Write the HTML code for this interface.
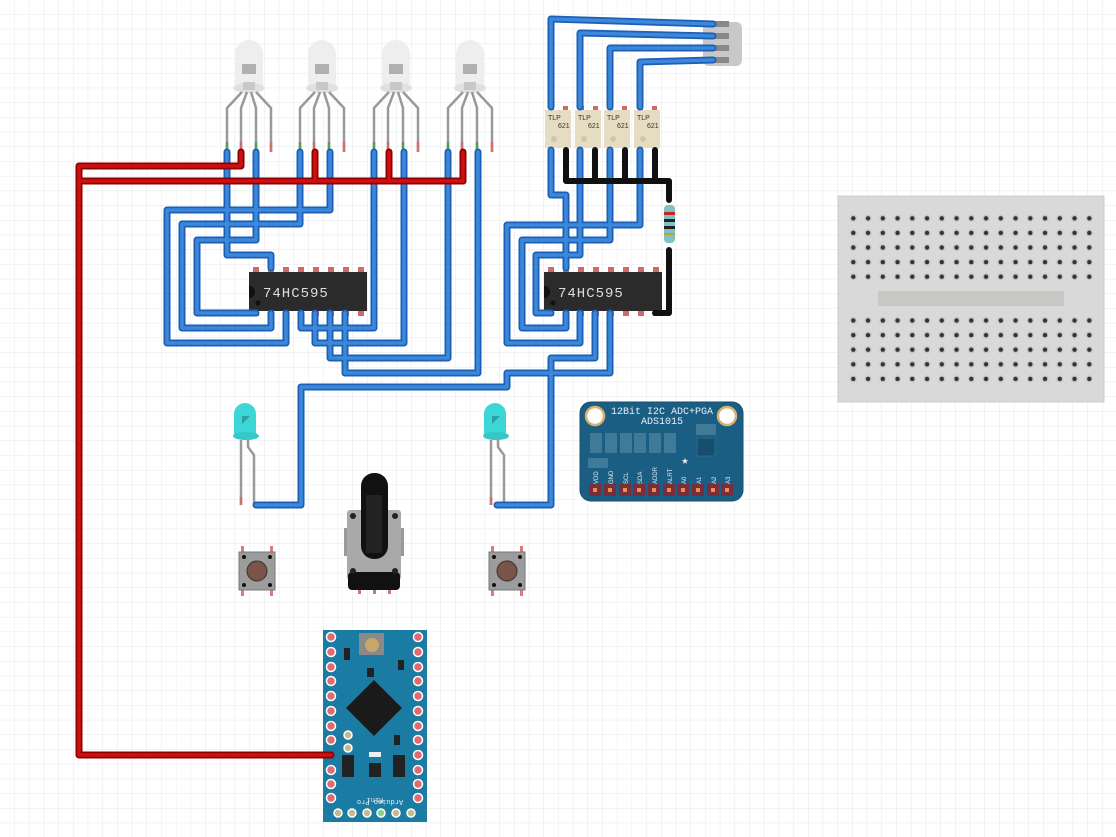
<!DOCTYPE html>
<html><head><meta charset="utf-8"><style>
html,body{margin:0;padding:0;background:#fff;}
svg{display:block;font-family:"Liberation Mono",monospace;}
</style></head><body>
<svg width="1116" height="837" viewBox="0 0 1116 837" xmlns="http://www.w3.org/2000/svg">
<defs>
<pattern id="grid" width="14.7" height="14.7" patternUnits="userSpaceOnUse">
<path d="M14.7 0V14.7H0" fill="none" stroke="#e3e8ef" stroke-width="1"/>
</pattern>
<pattern id="holes" x="846" y="211" width="14.75" height="14.6" patternUnits="userSpaceOnUse">
<circle cx="7.3" cy="7.3" r="3.6" fill="#c8c8c8"/><circle cx="7.3" cy="7.3" r="2.2" fill="#333"/>
</pattern>
<g id="rgbled">
<path d="M-14 46 V12 a14 14 0 0 1 28 0 V46Z" fill="#ececec" opacity="0.9"/>
<ellipse cx="0" cy="46" rx="16" ry="5" fill="#e0e0e0"/>
<rect x="-7" y="22" width="14" height="10" fill="#b0b0b0"/>
<rect x="-6" y="40" width="12" height="8" fill="#c8c8c8"/>
<g fill="none" stroke="#999" stroke-width="2.5">
<path d="M-7 50 L-22 66 V110"/><path d="M-2 50 L-8 66 V110"/><path d="M2 50 L7 66 V110"/><path d="M7 50 L22 66 V110"/>
</g>
<g stroke-width="2.5"><path d="M-22 100V110" stroke="#5a9a5a"/><path d="M-8 100V110" stroke="#c57070"/><path d="M7 100V110" stroke="#5a9a5a"/><path d="M22 100V110" stroke="#d07070"/></g>
</g>
<g id="chip">
<rect x="0" y="0" width="118" height="39" fill="#2b2b2b"/>
<g fill="#d06a6a"><rect x="4" y="-5" width="6" height="5"/><rect x="19" y="-5" width="6" height="5"/><rect x="34" y="-5" width="6" height="5"/><rect x="49" y="-5" width="6" height="5"/><rect x="64" y="-5" width="6" height="5"/><rect x="79" y="-5" width="6" height="5"/><rect x="94" y="-5" width="6" height="5"/><rect x="109" y="-5" width="6" height="5"/>
<rect x="4" y="39" width="6" height="5"/><rect x="19" y="39" width="6" height="5"/><rect x="34" y="39" width="6" height="5"/><rect x="49" y="39" width="6" height="5"/><rect x="64" y="39" width="6" height="5"/><rect x="79" y="39" width="6" height="5"/><rect x="94" y="39" width="6" height="5"/><rect x="109" y="39" width="6" height="5"/></g>
<path d="M0 14 a6 6 0 0 1 0 12Z" fill="#111"/><circle cx="9" cy="31" r="2.5" fill="#111"/>
<text x="14" y="25" fill="#ddd" font-size="14" letter-spacing="1">74HC595</text>
</g>
<g id="tlp">
<rect x="0" y="0" width="26" height="38" fill="#e6dcc2"/>
<rect x="4" y="-4" width="5" height="4" fill="#5a9a5a"/><rect x="18" y="-4" width="5" height="4" fill="#d06a6a"/>
<circle cx="9" cy="29" r="3" fill="#cfc6ae"/>
<text x="3" y="10" font-size="7" font-family="Liberation Sans" fill="#333">TLP</text>
<text x="13" y="18" font-size="7" font-family="Liberation Sans" fill="#333">621</text>
</g>
<g id="btn">
<rect x="2" y="-6" width="3" height="6" fill="#e07a7a"/><rect x="31" y="-6" width="3" height="6" fill="#e07a7a"/>
<rect x="2" y="38" width="3" height="6" fill="#e07a7a"/><rect x="31" y="38" width="3" height="6" fill="#e07a7a"/>
<rect x="0" y="0" width="36" height="38" fill="#9c9c9c" stroke="#777"/>
<circle cx="5" cy="5" r="2" fill="#111"/><circle cx="31" cy="5" r="2" fill="#111"/><circle cx="5" cy="33" r="2" fill="#111"/><circle cx="31" cy="33" r="2" fill="#111"/>
<circle cx="18" cy="19" r="10" fill="#7a5448" stroke="#333"/>
</g>
<g id="cled">
<path d="M-12 32 V9 a11 11 0 0 1 22 0 V32Z" fill="#3dd6d6"/>
<ellipse cx="0" cy="31" rx="13" ry="4" fill="#36c8c8"/>
<path d="M-4 11 h8 l-8 8z" fill="#2aa0a0"/>
<path d="M-5 35 V100" stroke="#999" stroke-width="2.5" fill="none"/>
<path d="M2 35 V42 L8 50 V100" stroke="#999" stroke-width="2.5" fill="none"/>
<path d="M-5 92 V100" stroke="#c97070" stroke-width="2.5"/>
</g>
</defs>
<rect width="1116" height="837" fill="#fff"/>
<rect width="1116" height="837" fill="url(#grid)"/>

<!-- breadboard -->
<rect x="838" y="196" width="266" height="206" fill="#d9d9d9" stroke="#ccc"/>
<rect x="846" y="211" width="251" height="73" fill="url(#holes)"/>
<rect x="846" y="313" width="251" height="73" fill="url(#holes)"/>
<rect x="878" y="291" width="186" height="15" fill="#c9c7c4"/>

<!-- RGB LEDs -->
<use href="#rgbled" x="249" y="42"/>
<use href="#rgbled" x="322" y="42"/>
<use href="#rgbled" x="396" y="42"/>
<use href="#rgbled" x="470" y="42"/>

<!-- chips -->
<use href="#chip" x="249" y="272"/>
<use href="#chip" x="544" y="272"/>

<!-- TLPs -->
<use href="#tlp" x="545" y="110"/>
<use href="#tlp" x="575" y="110"/>
<use href="#tlp" x="604" y="110"/>
<use href="#tlp" x="634" y="110"/>

<!-- connector -->
<rect x="703" y="22" width="39" height="44" rx="6" fill="#c8c8c8"/>
<g fill="#888"><rect x="713" y="21" width="16" height="6"/><rect x="713" y="33" width="16" height="6"/><rect x="713" y="45" width="16" height="6"/><rect x="713" y="57" width="16" height="6"/></g>

<!-- resistor -->
<rect x="664" y="205" width="11" height="38" rx="4" fill="#7fc2c2"/>
<g fill="#222"><rect x="664" y="212" width="11" height="3" fill="#c22"/><rect x="664" y="219" width="11" height="3"/><rect x="664" y="226" width="11" height="3"/><rect x="664" y="233" width="11" height="2" fill="#bca030"/></g>

<!-- cyan LEDs -->
<use href="#cled" x="246" y="405"/>
<use href="#cled" x="496" y="405"/>

<!-- buttons -->
<use href="#btn" x="239" y="552"/>
<use href="#btn" x="489" y="552"/>

<!-- pot -->
<g>
<rect x="344" y="528" width="6" height="28" fill="#999"/><rect x="398" y="528" width="6" height="28" fill="#999"/>
<rect x="347" y="510" width="54" height="70" rx="3" fill="#a9a9a9"/>
<rect x="348" y="572" width="52" height="18" rx="4" fill="#111"/>
<g fill="#c77"><rect x="358" y="590" width="3" height="4"/><rect x="373" y="590" width="3" height="4"/><rect x="388" y="590" width="3" height="4"/></g>
<g fill="#222"><circle cx="353" cy="516" r="3"/><circle cx="395" cy="516" r="3"/><circle cx="353" cy="571" r="3"/><circle cx="395" cy="571" r="3"/></g>
<rect x="361" y="473" width="27" height="86" rx="13" fill="#111"/>
<rect x="366" y="495" width="16" height="58" fill="#222"/>
</g>

<!-- ADC -->
<g>
<rect x="580" y="402" width="163" height="99" rx="11" fill="#1b5e84" stroke="#174e6e"/>
<circle cx="595" cy="416" r="9" fill="#fff" stroke="#d8b070" stroke-width="2.5"/>
<circle cx="727" cy="416" r="9" fill="#fff" stroke="#d8b070" stroke-width="2.5"/>
<text x="662" y="414" font-size="10" fill="#e8eef4" text-anchor="middle">12Bit I2C ADC+PGA</text>
<text x="662" y="424" font-size="10" fill="#e8eef4" text-anchor="middle">ADS1015</text>
<g fill="#3f7a98"><rect x="590" y="433" width="12" height="20"/><rect x="605" y="433" width="12" height="20"/><rect x="620" y="433" width="12" height="20"/><rect x="634" y="433" width="12" height="20"/><rect x="649" y="433" width="12" height="20"/><rect x="664" y="433" width="12" height="20"/><rect x="696" y="424" width="20" height="11"/><rect x="588" y="458" width="20" height="10"/></g>
<rect x="697" y="438" width="18" height="18" fill="#174e6e" stroke="#2a6a8a"/>
<text x="685" y="464" font-size="12" fill="#e8eef4" text-anchor="middle">★</text>
<g font-size="6" fill="#e8eef4" font-family="Liberation Sans">
<text transform="translate(598,484) rotate(-90)">VDD</text><text transform="translate(613,484) rotate(-90)">GND</text><text transform="translate(628,484) rotate(-90)">SCL</text><text transform="translate(642,484) rotate(-90)">SDA</text><text transform="translate(657,484) rotate(-90)">ADDR</text><text transform="translate(672,484) rotate(-90)">ALRT</text><text transform="translate(686,484) rotate(-90)">A0</text><text transform="translate(701,484) rotate(-90)">A1</text><text transform="translate(716,484) rotate(-90)">A2</text><text transform="translate(730,484) rotate(-90)">A3</text>
</g>
<g fill="#7a2d3a"><rect x="589" y="484" width="12" height="12"/><rect x="604" y="484" width="12" height="12"/><rect x="619" y="484" width="12" height="12"/><rect x="633" y="484" width="12" height="12"/><rect x="648" y="484" width="12" height="12"/><rect x="663" y="484" width="12" height="12"/><rect x="677" y="484" width="12" height="12"/><rect x="692" y="484" width="12" height="12"/><rect x="707" y="484" width="12" height="12"/><rect x="721" y="484" width="12" height="12"/></g>
<g fill="#e8904a"><rect x="593" y="488" width="4" height="4"/><rect x="608" y="488" width="4" height="4"/><rect x="623" y="488" width="4" height="4"/><rect x="637" y="488" width="4" height="4"/><rect x="652" y="488" width="4" height="4"/><rect x="667" y="488" width="4" height="4"/><rect x="681" y="488" width="4" height="4"/><rect x="696" y="488" width="4" height="4"/><rect x="711" y="488" width="4" height="4"/><rect x="725" y="488" width="4" height="4"/></g>
</g>

<!-- Arduino Pro Mini -->
<g>
<rect x="323" y="630" width="104" height="192" fill="#1a7ca3"/>
<rect x="359" y="633" width="25" height="22" fill="#8a8a8a"/><circle cx="372" cy="645" r="7" fill="#c8a86a"/>
<path d="M374 680 L402 708 L374 736 L346 708Z" fill="#1a1a1a"/>
<g fill="#e06a72" stroke="#fff" stroke-width="1.5">
<circle cx="331" cy="637" r="4.5"/><circle cx="331" cy="652" r="4.5"/><circle cx="331" cy="667" r="4.5"/><circle cx="331" cy="681" r="4.5"/><circle cx="331" cy="696" r="4.5"/><circle cx="331" cy="711" r="4.5"/><circle cx="331" cy="726" r="4.5"/><circle cx="331" cy="740" r="4.5"/><circle cx="331" cy="770" r="4.5"/><circle cx="331" cy="784" r="4.5"/><circle cx="331" cy="798" r="4.5"/>
<circle cx="418" cy="637" r="4.5"/><circle cx="418" cy="652" r="4.5"/><circle cx="418" cy="667" r="4.5"/><circle cx="418" cy="681" r="4.5"/><circle cx="418" cy="696" r="4.5"/><circle cx="418" cy="711" r="4.5"/><circle cx="418" cy="726" r="4.5"/><circle cx="418" cy="740" r="4.5"/><circle cx="418" cy="755" r="4.5"/><circle cx="418" cy="770" r="4.5"/><circle cx="418" cy="784" r="4.5"/><circle cx="418" cy="798" r="4.5"/>
</g>
<g fill="#c8b890" stroke="#fff" stroke-width="1.5"><circle cx="338" cy="813" r="4"/><circle cx="352" cy="813" r="4"/><circle cx="367" cy="813" r="4"/><circle cx="396" cy="813" r="4"/><circle cx="411" cy="813" r="4"/><circle cx="348" cy="735" r="4"/><circle cx="348" cy="748" r="4"/></g>
<circle cx="381" cy="813" r="4" fill="#8ad08a" stroke="#fff" stroke-width="1.5"/>
<g fill="#222"><rect x="342" y="755" width="12" height="22"/><rect x="393" y="755" width="12" height="22"/><rect x="369" y="763" width="12" height="14"/><rect x="344" y="648" width="6" height="12"/><rect x="398" y="660" width="6" height="10"/><rect x="367" y="668" width="7" height="9"/><rect x="394" y="735" width="6" height="10"/></g>
<rect x="369" y="752" width="12" height="5" fill="#eee"/>
<text x="370" y="794" font-size="7" fill="#e8eef4" text-anchor="middle" transform="rotate(180 375 797)">Arduino Pro</text>
<text x="375" y="804" font-size="7" fill="#e8eef4" text-anchor="middle" transform="rotate(180 375 801)">Mini</text>
</g>

<!-- wires -->
<g fill="none" stroke-linejoin="round" stroke-linecap="round">
<g stroke="#1d5fb5" stroke-width="7">
<polyline points="227,152 227,255 271,255 271,268"/>
<polyline points="256,152 256,240 197,240 197,313 256,313"/>
<polyline points="300,152 300,224 182,224 182,328 271,328 271,313"/>
<polyline points="330,152 330,210 167,210 167,343 286,343 286,313"/>
<polyline points="374,152 374,328 301,328 301,313"/>
<polyline points="404,152 404,343 315,343 315,313"/>
<polyline points="448,152 448,358 330,358 330,313"/>
<polyline points="478,152 478,373 345,373 345,313"/>
<polyline points="256,505 301,505 301,387 507,387 507,373 610,373 610,313"/>
<polyline points="497,505 551,505 551,358 595,358 595,313"/>
<polyline points="640,150 640,225 507,225 507,343 580,343 580,313"/>
<polyline points="610,150 610,240 522,240 522,328 566,328 566,313"/>
<polyline points="580,150 580,255 536,255 536,313 551,313"/>
<polyline points="551,150 551,195 566,195 566,268"/>
<polyline points="551,107 551,19 713,24"/>
<polyline points="580,107 580,33 713,36"/>
<polyline points="610,107 610,48 713,48"/>
<polyline points="640,107 640,62 713,60"/>
</g>
<g stroke="#3c88dc" stroke-width="3.5">
<polyline points="227,152 227,255 271,255 271,268"/>
<polyline points="256,152 256,240 197,240 197,313 256,313"/>
<polyline points="300,152 300,224 182,224 182,328 271,328 271,313"/>
<polyline points="330,152 330,210 167,210 167,343 286,343 286,313"/>
<polyline points="374,152 374,328 301,328 301,313"/>
<polyline points="404,152 404,343 315,343 315,313"/>
<polyline points="448,152 448,358 330,358 330,313"/>
<polyline points="478,152 478,373 345,373 345,313"/>
<polyline points="256,505 301,505 301,387 507,387 507,373 610,373 610,313"/>
<polyline points="497,505 551,505 551,358 595,358 595,313"/>
<polyline points="640,150 640,225 507,225 507,343 580,343 580,313"/>
<polyline points="610,150 610,240 522,240 522,328 566,328 566,313"/>
<polyline points="580,150 580,255 536,255 536,313 551,313"/>
<polyline points="551,150 551,195 566,195 566,268"/>
<polyline points="551,107 551,19 713,24"/>
<polyline points="580,107 580,33 713,36"/>
<polyline points="610,107 610,48 713,48"/>
<polyline points="640,107 640,62 713,60"/>
</g>
<g stroke="#111" stroke-width="6">
<polyline points="566,150 566,181 669,181 669,200"/>
<polyline points="595,150 595,181"/><polyline points="625,150 625,181"/><polyline points="655,150 655,181"/>
<polyline points="669,250 669,313 655,313"/>
</g>
<g stroke="#8c0000" stroke-width="7">
<polyline points="241,152 241,166 79,166 79,755 331,755"/>
<polyline points="79,181 463,181"/>
<polyline points="315,152 315,181"/><polyline points="389,152 389,181"/><polyline points="463,152 463,181"/>
</g>
<g stroke="#d01010" stroke-width="3.5">
<polyline points="241,152 241,166 79,166 79,755 331,755"/>
<polyline points="79,181 463,181"/>
<polyline points="315,152 315,181"/><polyline points="389,152 389,181"/><polyline points="463,152 463,181"/>
</g>
</g>
</svg>
</body></html>
